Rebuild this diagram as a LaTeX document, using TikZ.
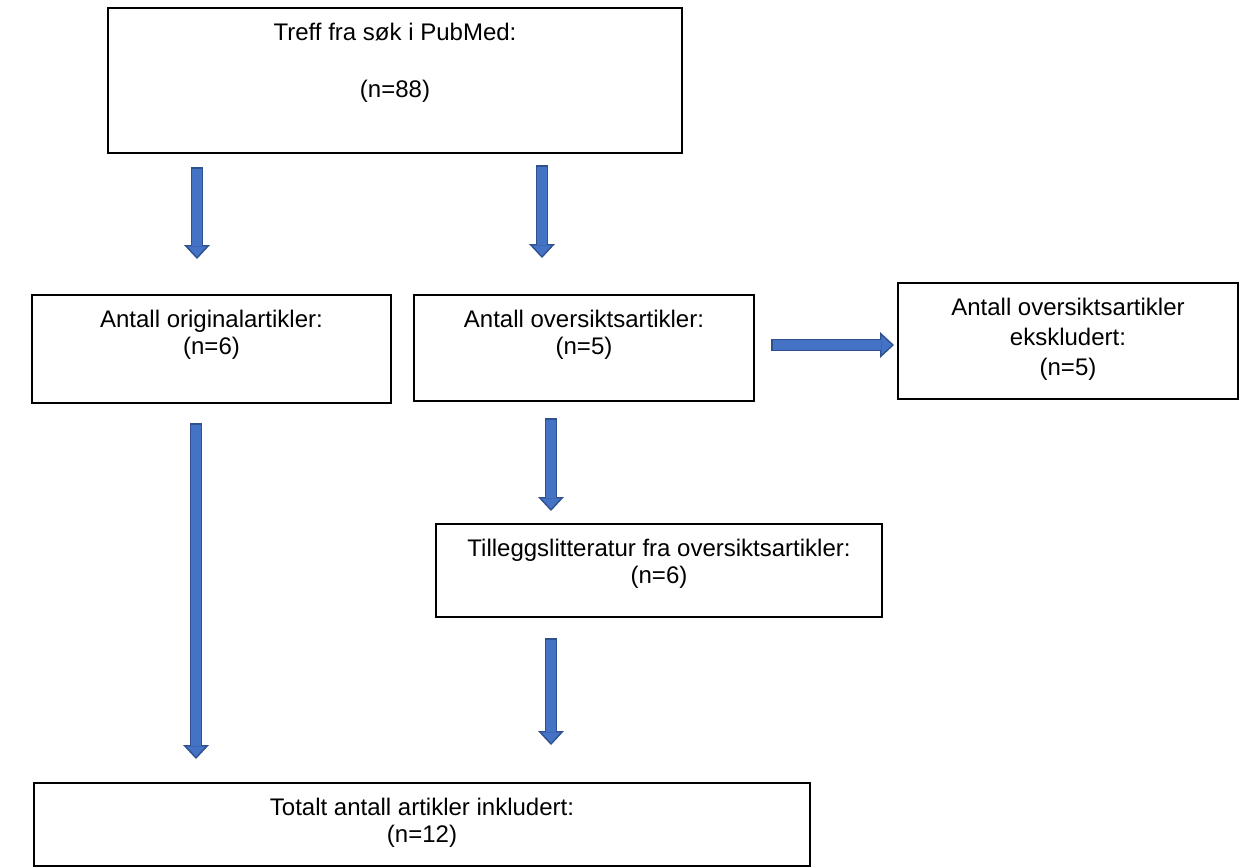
\documentclass[tikz,border=0pt]{standalone}
\usepackage{fontspec}
\setmainfont{Liberation Sans}
\usetikzlibrary{arrows.meta,positioning,fit}
\definecolor{arrowfill}{HTML}{4472C4}
\definecolor{arrowline}{HTML}{2F528F}

\tikzset{
  box/.style={draw=black, line width=0.9pt, inner sep=0pt},
  boxtext/.style={align=center, inner sep=0pt, font=\fontsize{13.66}{15.3}\selectfont},
  bluearrow/.style={draw=arrowline, line width=0.25cm,
    -{Triangle[length=0.28cm,width=0.52cm,line width=0pt]},
    postaction={draw=arrowfill, line width=0.19cm, shorten <=0.03cm, shorten >=0.044cm,
      -{Triangle[length=0.21cm,width=0.38cm,line width=0pt]}}}
}

\begin{document}
\begin{tikzpicture}[x=0.02cm,y=-0.02cm]
        \useasboundingbox (0,0) rectangle (1245,867);

        % boxes
        \node[box, fit={(108,8) (682,153)}] (search) {};
        \node[box, fit={(32,295) (391,403)}] (orig) {};
        \node[box, fit={(414,295) (754,401)}] (review) {};
        \node[box, fit={(898,283) (1238,399)}] (excl) {};
        \node[box, fit={(436,524) (882,617)}] (extra) {};
        \node[box, fit={(34,783) (810,866)}] (total) {};

        % texts
        \node[boxtext, anchor=north, below=0.32cm of search.north] (searchtxt)
            {Treff fra søk i PubMed:\\[0.6cm] (n=88)};
        \node[boxtext, anchor=north, below=0.32cm of orig.north] (origtxt)
            {Antall originalartikler:\\ (n=6)};
        \node[boxtext, anchor=north, below=0.32cm of review.north] (reviewtxt)
            {Antall oversiktsartikler:\\ (n=5)};
        \node[boxtext, anchor=north, below=0.32cm of excl.north] (excltxt)
            {Antall oversiktsartikler\\[0.06cm] ekskludert:\\[0.06cm] (n=5)};
        \node[boxtext, anchor=north, below=0.32cm of extra.north] (extratxt)
            {Tilleggslitteratur fra oversiktsartikler:\\ (n=6)};
        \node[boxtext, anchor=north, below=0.32cm of total.north] (totaltxt)
            {Totalt antall artikler inkludert:\\ (n=12)};

        % arrow ends
        \coordinate (a1s) at (197,167);  \coordinate (a1e) at (197,259);
        \coordinate (a2s) at (542,165);  \coordinate (a2e) at (542,258);
        \coordinate (a3s) at (771,345);  \coordinate (a3e) at (894,345);
        \coordinate (a4s) at (551,418);  \coordinate (a4e) at (551,511);
        \coordinate (a5s) at (196,423);  \coordinate (a5e) at (196,759);
        \coordinate (a6s) at (551,638);  \coordinate (a6e) at (551,745);

        \draw[bluearrow] (a1s) -- (a1e);
        \draw[bluearrow] (a2s) -- (a2e);
        \draw[bluearrow] (a3s) -- (a3e);
        \draw[bluearrow] (a4s) -- (a4e);
        \draw[bluearrow] (a5s) -- (a5e);
        \draw[bluearrow] (a6s) -- (a6e);
\end{tikzpicture}
\end{document}
